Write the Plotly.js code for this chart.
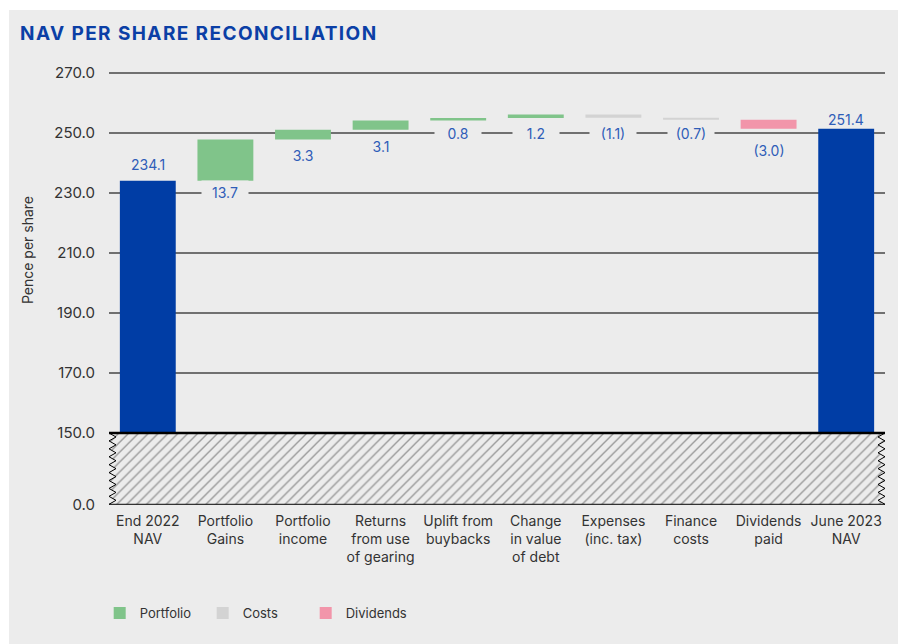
<!DOCTYPE html>
<html><head><meta charset="utf-8">
<script src="https://cdn.plot.ly/plotly-3.0.1.min.js"></script>
<style>
html,body{margin:0;padding:0;background:#fff;}
#chart{position:absolute;left:9px;top:10px;width:889px;height:634px;}
.gtitle{letter-spacing:1.4px;}
</style></head><body><div id="chart"></div>
<script>
// ---- data ----
const categories = ['End 2022 NAV','Portfolio Gains','Portfolio income','Returns from use of gearing','Uplift from buybacks','Change in value of debt','Expenses (inc. tax)','Finance costs','Dividends paid','June 2023 NAV'];
const tickLabels = ['End 2022<br>NAV','Portfolio<br>Gains','Portfolio<br>income','Returns<br>from use<br>of gearing','Uplift from<br>buybacks','Change<br>in value<br>of debt','Expenses<br>(inc. tax)','Finance<br>costs','Dividends<br>paid','June 2023<br>NAV'];
const navCats = ['End 2022 NAV','June 2023 NAV'];
const navValues = [234.1, 251.4];
const portfolioCats = ['Portfolio Gains','Portfolio income','Returns from use of gearing','Uplift from buybacks','Change in value of debt'];
const portfolioValues = [13.7, 3.3, 3.1, 0.8, 1.2];
const costsCats = ['Expenses (inc. tax)','Finance costs'];
const costsValues = [-1.1, -0.7];
const dividendCats = ['Dividends paid'];
const dividendValues = [-3.0];
const yTicks = [150,170,190,210,230,250,270];

// ---- styling / label offsets (px) ----
const FONT = 'Inter, "Open Sans", sans-serif';
const TXT = '#333333';
const LABEL = '#2f5db8';
const labelShift = {
  'End 2022 NAV':16,'Portfolio Gains':-12,'Portfolio income':-16,'Returns from use of gearing':-17,
  'Uplift from buybacks':-13,'Change in value of debt':-15,'Expenses (inc. tax)':-16,
  'Finance costs':-13.5,'Dividends paid':-22,'June 2023 NAV':9
};

// running bases
const deltas = {};
portfolioCats.forEach((c,i)=>deltas[c]=portfolioValues[i]);
costsCats.forEach((c,i)=>deltas[c]=costsValues[i]);
dividendCats.forEach((c,i)=>deltas[c]=dividendValues[i]);
const base = {};
let run = navValues[0];
categories.forEach(c=>{ if(c in deltas){ base[c]=run; run += deltas[c]; } });

const fmt = v => v < 0 ? '(' + Math.abs(v).toFixed(1) + ')' : v.toFixed(1);

function deltaTrace(cats, vals, name, color){
  return {type:'bar', x:cats, y:vals, base:cats.map(c=>base[c]), name:name,
    marker:{color:color}, xaxis:'x', yaxis:'y', hoverinfo:'x+y'};
}

const traces = [
  {type:'bar', x:navCats, y:navValues, name:'NAV', marker:{color:'#003da5'}, showlegend:false, xaxis:'x', yaxis:'y'},
  deltaTrace(portfolioCats, portfolioValues, 'Portfolio', '#80c48a'),
  deltaTrace(costsCats, costsValues, 'Costs', '#d3d3d3'),
  deltaTrace(dividendCats, dividendValues, 'Dividends', '#f295aa')
];

// hatched broken-axis band (decoration)
const amp = 7/776, nZ = 9;
const hx = [], hy = [];
for(let i=0;i<=2*nZ;i++){ hx.push(i%2 ? amp : 0); hy.push(150 - i*150/(2*nZ)); }
for(let i=0;i<=2*nZ;i++){ hx.push(1 - (i%2 ? amp : 0)); hy.push(i*150/(2*nZ)); }
hx.push(hx[0]); hy.push(hy[0]);
traces.push({type:'scatter', x:hx, y:hy, xaxis:'x2', yaxis:'y2', mode:'lines', fill:'toself',
  fillcolor:'#ececec', fillpattern:{shape:'/', size:7, solidity:0.2, fgcolor:'#9a9a9a', bgcolor:'#ececec'},
  line:{color:'#000', width:1}, hoverinfo:'skip', showlegend:false});

// value labels
const annotations = [];
navCats.forEach((c,i)=>annotations.push({x:c, y:navValues[i], xref:'x', yref:'y', text:fmt(navValues[i]),
  showarrow:false, yanchor:'middle', yshift:labelShift[c], font:{family:FONT,size:14,color:LABEL}}));
Object.keys(deltas).forEach(c=>{
  const lo = Math.min(base[c], base[c]+deltas[c]);
  annotations.push({x:c, y:lo, xref:'x', yref:'y', text:fmt(deltas[c]), showarrow:false,
    yanchor:'middle', yshift:labelShift[c], width:40, borderpad:3, bgcolor:'#ececec',
    font:{family:FONT,size:14,color:LABEL}});
});

const h0 = 72/438;
const layout = {
  width:889, height:634,
  paper_bgcolor:'#ececec', plot_bgcolor:'rgba(0,0,0,0)',
  margin:{l:100, r:13, t:57, b:139},
  barmode:'overlay', bargap:0.28,
  font:{family:FONT, color:TXT},
  title:{text:'<b>NAV PER SHARE RECONCILIATION</b>', font:{family:FONT, size:19, color:'#0b3fa6'},
    x:11/889, xref:'container', xanchor:'left', y:1-23/634, yref:'container', yanchor:'middle'},
  xaxis:{domain:[0,1], anchor:'y2', type:'category', categoryorder:'array', categoryarray:categories,
    tickvals:categories, ticktext:tickLabels, range:[-0.5,9.5], showgrid:false, zeroline:false, showline:false,
    ticks:'outside', ticklen:3, tickcolor:'rgba(0,0,0,0)', tickfont:{family:FONT,size:14,color:TXT}},
  xaxis2:{overlaying:'x', anchor:'y2', range:[0,1], visible:false},
  yaxis:{domain:[h0,1], anchor:'x', range:[150,272], tickvals:yTicks, tickformat:'.1f',
    showgrid:true, gridcolor:'#707070', gridwidth:1.5, zeroline:false, showline:false,
    ticks:'outside', ticklen:10, tickcolor:'rgba(0,0,0,0)', tickfont:{family:FONT,size:15,color:TXT}},
  yaxis2:{domain:[0,h0], anchor:'x', range:[-1.5,150], tickvals:[0], ticktext:['0.0'],
    showgrid:false, zeroline:false, showline:false, ticks:'outside', ticklen:10, tickcolor:'rgba(0,0,0,0)',
    tickfont:{family:FONT,size:15,color:TXT}},
  shapes:[{type:'line', xref:'paper', yref:'paper', x0:0, x1:1, y0:h0, y1:h0, line:{color:'#000', width:2.5}}],
  annotations:annotations,
  legend:{orientation:'h', x:-0.012, xanchor:'left', y:(505-613)/438, yanchor:'middle',
    entrywidth:58, entrywidthmode:'pixels',
    font:{family:FONT,size:13,color:TXT}, bgcolor:'rgba(0,0,0,0)', traceorder:'normal'},
  showlegend:true
};
layout.yaxis.title = {text:'Pence per share', font:{family:FONT,size:14,color:TXT}, standoff:17};
Plotly.newPlot('chart', traces, layout, {displayModeBar:false, responsive:false});
</script></body></html>
